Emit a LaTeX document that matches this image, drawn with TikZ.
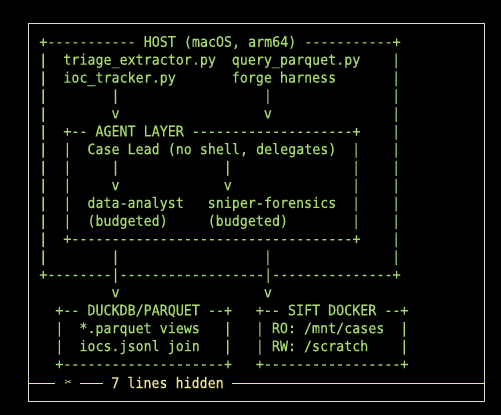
\documentclass[tikz,border=0pt]{standalone}
\usepackage{fontspec}
\setmonofont{DejaVu Sans Mono}[FakeStretch=0.92,FakeBold=0.4]
\newfontfamily\symfont{DejaVu Sans}
\definecolor{term}{HTML}{A6D86B}
\definecolor{hidc}{HTML}{EDE48E}
\definecolor{framec}{HTML}{D9D9D9}
\newcommand\asc[3]{\node[ascii] (r#1c#2) at ({39.3+8.02*#2},{46.8+17.9*(#1-1)}) {#3};}
\begin{document}
\begin{tikzpicture}[x=1pt,y=-1pt,
  ascii/.style={anchor=base west,inner sep=0pt,outer sep=0pt,text=term,
    font=\ttfamily\fontsize{14.5}{16}\selectfont},
  hidtext/.style={anchor=base west,inner sep=0pt,outer sep=0pt,text=hidc,
    font=\ttfamily\fontsize{14.5}{16}\selectfont},
  hidline/.style={draw=hidc,line width=0.9pt}]
\fill[black] (0,0) rectangle (501,415);
\useasboundingbox (0,0) rectangle (501,415);
\draw[framec,line width=0.9pt] (28,23) rectangle (484,401);
% row 1
\asc{1}{0}{+----------- HOST (macOS, arm64) -----------+}
% row 2
\asc{2}{0}{|}\asc{2}{3}{triage\_extractor.py}\asc{2}{24}{query\_parquet.py}\asc{2}{44}{|}
% row 3
\asc{3}{0}{|}\asc{3}{3}{ioc\_tracker.py}\asc{3}{24}{forge harness}\asc{3}{44}{|}
% row 4
\asc{4}{0}{|}\asc{4}{9}{|}\asc{4}{28}{|}\asc{4}{44}{|}
% row 5
\asc{5}{0}{|}\asc{5}{9}{v}\asc{5}{28}{v}\asc{5}{44}{|}
% row 6
\asc{6}{0}{|}\asc{6}{3}{+-- AGENT LAYER --------------------+}\asc{6}{44}{|}
% row 7
\asc{7}{0}{|}\asc{7}{3}{|}\asc{7}{6}{Case Lead (no shell, delegates)}\asc{7}{39}{|}\asc{7}{44}{|}
% row 8
\asc{8}{0}{|}\asc{8}{3}{|}\asc{8}{9}{|}\asc{8}{23}{|}\asc{8}{39}{|}\asc{8}{44}{|}
% row 9
\asc{9}{0}{|}\asc{9}{3}{|}\asc{9}{9}{v}\asc{9}{23}{v}\asc{9}{39}{|}\asc{9}{44}{|}
% row 10
\asc{10}{0}{|}\asc{10}{3}{|}\asc{10}{6}{data-analyst}\asc{10}{21}{sniper-forensics}\asc{10}{39}{|}\asc{10}{44}{|}
% row 11
\asc{11}{0}{|}\asc{11}{3}{|}\asc{11}{6}{(budgeted)}\asc{11}{21}{(budgeted)}\asc{11}{39}{|}\asc{11}{44}{|}
% row 12
\asc{12}{0}{|}\asc{12}{3}{+-----------------------------------+}\asc{12}{44}{|}
% row 13
\asc{13}{0}{|}\asc{13}{9}{|}\asc{13}{28}{|}\asc{13}{44}{|}
% row 14
\asc{14}{0}{+--------|------------------|---------------+}
% row 15
\asc{15}{9}{v}\asc{15}{28}{v}
% row 16
\asc{16}{2}{+-- DUCKDB/PARQUET --+}\asc{16}{27}{+-- SIFT DOCKER --+}
% row 17
\asc{17}{2}{|}\asc{17}{5}{*.parquet views}\asc{17}{23}{|}\asc{17}{27}{|}\asc{17}{29}{RO: /mnt/cases}\asc{17}{45}{|}
% row 18
\asc{18}{2}{|}\asc{18}{5}{iocs.jsonl join}\asc{18}{23}{|}\asc{18}{27}{|}\asc{18}{29}{RW: /scratch}\asc{18}{45}{|}
% row 19
\asc{19}{2}{+--------------------+}\asc{19}{27}{+-----------------+}
% hidden-lines marker
\coordinate (hl0) at (28,383);
\coordinate (hl1) at (55,383);
\node[text=hidc,inner sep=0pt,font=\symfont\fontsize{9}{10}\selectfont] (scis) at (68.3,383) {✂};
\coordinate (hl2) at (80,383);
\coordinate (hl3) at (103.3,383);
\node[hidtext] (hid) at (111.3,388) {7 lines hidden};
\coordinate (hl4) at (232,383);
\coordinate (hl5) at (484,383);
\draw[hidline] (hl0) -- (hl1);
\draw[hidline] (hl2) -- (hl3);
\draw[hidline] (hl4) -- (hl5);
\end{tikzpicture}
\end{document}
